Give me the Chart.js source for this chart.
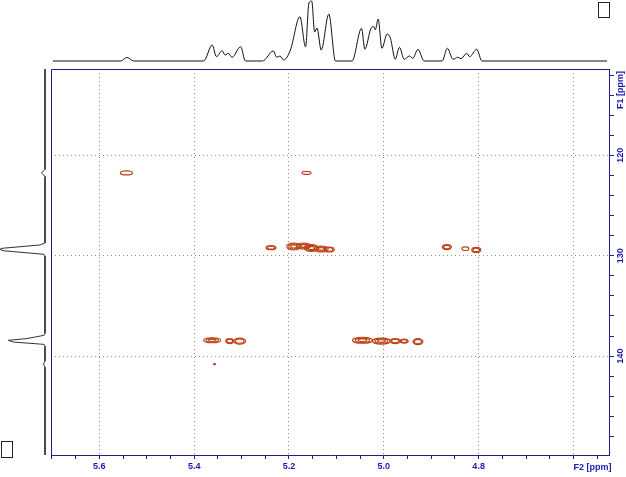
<!DOCTYPE html>
<html>
<head>
<meta charset="utf-8">
<script src="https://cdn.jsdelivr.net/npm/chart.js@4.4.1/dist/chart.umd.min.js"></script>
<style>
  html, body { margin:0; padding:0; background:#fff; }
  #wrap { position:relative; width:626px; height:477px; overflow:hidden; }
  canvas { position:absolute; }
  #main { left:0; top:0; }
  #topProj { left:51px; top:0; }
  #leftProj { left:0; top:69px; }
  .box { position:absolute; border:1px solid #222; background:#fff; }
</style>
</head>
<body>
<div id="wrap">
  <canvas id="main" width="626" height="477"></canvas>
  <canvas id="topProj" width="558" height="64"></canvas>
  <canvas id="leftProj" width="48" height="386"></canvas>
  <div class="box" style="left:598px;top:2px;width:10px;height:14px"></div>
  <div class="box" style="left:1px;top:441px;width:10px;height:15px"></div>
</div>
<script>
// plot windows (ppm)
const f2Range = [4.525, 5.702];
const f1Range = [111.4, 149.85];
const f1Labelled = [120, 130, 140];

// cross peaks: centre (F2, F1), half widths (ppm), number of contour levels
const peakF2 = [5.543, 5.163, 5.238, 5.190, 5.169, 5.153, 5.132, 5.115, 4.867, 4.828, 4.805,
                5.362, 5.325, 5.304, 5.045, 5.005, 4.976, 4.957, 4.928, 5.357];
const peakF1 = [121.75, 121.75, 129.2, 129.08, 129.03, 129.23, 129.33, 129.38, 129.14, 129.3, 129.42,
                138.42, 138.5, 138.5, 138.42, 138.5, 138.5, 138.5, 138.55, 140.8];
const peakWF2 = [0.0127, 0.0095, 0.0105, 0.0148, 0.0148, 0.0148, 0.0148, 0.0105, 0.0095, 0.0074, 0.0095,
                 0.018, 0.0084, 0.0127, 0.021, 0.019, 0.0105, 0.0084, 0.0105, 0.002];
const peakWF1 = [0.2, 0.15, 0.2, 0.35, 0.3, 0.35, 0.3, 0.25, 0.25, 0.18, 0.25,
                 0.25, 0.25, 0.3, 0.3, 0.3, 0.25, 0.2, 0.3, 0.06];
const peakLevels = [1, 1, 2, 3, 3, 3, 3, 2, 2, 1, 2, 3, 2, 2, 3, 3, 2, 2, 2, 1];

// F2 projection (1H)
const projF2Ppm = [5.698, 5.555, 5.542, 5.527, 5.380, 5.362, 5.353, 5.341, 5.335, 5.328, 5.320, 5.302, 5.292,
  5.256, 5.233, 5.226, 5.219, 5.211, 5.197, 5.177, 5.165, 5.158, 5.152, 5.146, 5.141, 5.132, 5.116, 5.102,
  5.067, 5.047, 5.040, 5.027, 5.021, 5.018, 5.012, 5.004, 4.993, 4.986, 4.976, 4.967, 4.957, 4.946, 4.939,
  4.928, 4.915, 4.877, 4.866, 4.854, 4.844, 4.837, 4.825, 4.819, 4.804, 4.793, 4.529];
const projF2Int = [0, 0, 3.5, 0, 0, 16, 4.3, 10.3, 6, 7.7, 3.7, 14.3, 0,
  0, 10, 3.7, 5, 1, 11, 44.3, 14, 58, 60, 29, 33, 11, 47, 0,
  0, 32.7, 11.7, 32.7, 34.3, 31, 42, 12.7, 27, 22.7, 1.7, 13.7, 1.7, 5, 2.7,
  11.7, 0, 0, 12.7, 1.7, 3.7, 2.3, 7.7, 4.3, 11.7, 0, 0];

// F1 projection (13C)
const projF1Ppm = [111.4, 121.4, 121.75, 122.1, 128.73, 128.93, 129.26, 129.36, 129.5, 129.86, 130.03,
  137.73, 137.93, 138.25, 138.43, 138.6, 138.83, 139.03, 140.5, 140.8, 141.1, 149.85];
const projF1Int = [0, 0, 3.5, 0, 0, 5, 43, 45, 42, 1, 0,
  0, 1, 18, 36.7, 31.7, 1, 0, 0, 1.5, 0, 0];

const AXIS_BLUE = '#1e1e8c';
const LABEL_BLUE = '#1a1ab4';
const GRID_GREY = '#8c8c8c';
const CONTOUR = '#bc4416';
const FONT_FAMILY = '"Liberation Sans", Arial, sans-serif';

function isMajorF2(v){ return Math.abs(v * 5 - Math.round(v * 5)) < 1e-6; }
function isMajorF1(v){ return Math.abs(v / 10 - Math.round(v / 10)) < 1e-6; }

const contourPlugin = {
  id: 'contours',
  afterDatasetsDraw(chart) {
    const {ctx, chartArea: a, scales: {x, y}} = chart;
    const meta = chart.getDatasetMeta(0);
    ctx.save();
    ctx.beginPath();
    ctx.rect(a.left, a.top, a.right - a.left, a.bottom - a.top);
    ctx.clip();
    ctx.strokeStyle = CONTOUR;
    ctx.lineWidth = 1.2;
    meta.data.forEach((el, i) => {
      const rx = Math.abs(x.getPixelForValue(peakF2[i] + peakWF2[i]) - el.x);
      const ry = Math.abs(y.getPixelForValue(peakF1[i] + peakWF1[i]) - el.y);
      const n = peakLevels[i];
      for (let k = 0; k < n; k++) {
        const f = 1 - k * 0.28;
        ctx.beginPath();
        ctx.ellipse(el.x, el.y, Math.max(rx * f, 0.8), Math.max(ry * f, 0.5), 0, 0, Math.PI * 2);
        ctx.stroke();
      }
    });
    ctx.restore();
  }
};

const frameAndLabels = {
  id: 'frameAndLabels',
  afterDraw(chart) {
    const {ctx, chartArea: a, scales: {x, y}} = chart;
    ctx.save();
    ctx.strokeStyle = AXIS_BLUE;
    ctx.lineWidth = 1;
    ctx.beginPath();
    ctx.moveTo(Math.round(a.left) + 0.5, Math.round(a.bottom));
    ctx.lineTo(Math.round(a.left) + 0.5, Math.round(a.top) + 0.5);
    ctx.lineTo(Math.round(a.right), Math.round(a.top) + 0.5);
    ctx.stroke();
    ctx.fillStyle = LABEL_BLUE;
    ctx.font = 'bold 9px ' + FONT_FAMILY;
    ctx.textAlign = 'center';
    ctx.textBaseline = 'middle';
    f1Labelled.forEach(v => {
      ctx.save();
      ctx.translate(a.right + 12, y.getPixelForValue(v));
      ctx.rotate(-Math.PI / 2);
      ctx.fillText(String(v), 0, 0);
      ctx.restore();
    });
    ctx.save();
    ctx.translate(a.right + 12, 90);
    ctx.rotate(-Math.PI / 2);
    ctx.fillText('F1 [ppm]', 0, 0);
    ctx.restore();
    ctx.textAlign = 'left';
    ctx.fillText('F2 [ppm]', x.getPixelForValue(4.6), 468);
    ctx.restore();
  }
};

new Chart(document.getElementById('main'), {
  type: 'scatter',
  data: {
    datasets: [{
      data: peakF2.map((v, i) => ({x: v, y: peakF1[i]})),
      pointRadius: 0,
      pointHoverRadius: 0
    }]
  },
  options: {
    responsive: false,
    animation: false,
    events: [],
    layout: { padding: { left: 51, top: 69, right: 0, bottom: 0 } },
    plugins: { legend: { display: false }, tooltip: { enabled: false } },
    scales: {
      x: {
        type: 'linear', position: 'bottom', reverse: true,
        min: f2Range[0], max: f2Range[1],
        afterFit: s => { s.height = 22; },
        ticks: {
          stepSize: 0.05, includeBounds: false, autoSkip: false, maxRotation: 0, padding: 2,
          color: LABEL_BLUE, font: { family: FONT_FAMILY, size: 9, weight: 'bold' },
          callback: v => (isMajorF2(v) && v > 4.7) ? v.toFixed(1) : ''
        },
        grid: {
          color: c => (c.tick && isMajorF2(c.tick.value)) ? GRID_GREY : 'rgba(0,0,0,0)',
          tickColor: AXIS_BLUE, tickLength: 4, lineWidth: 1
        },
        border: { display: true, color: AXIS_BLUE, width: 1, dash: [1, 3] }
      },
      y: {
        type: 'linear', position: 'right', reverse: true,
        min: f1Range[0], max: f1Range[1],
        afterFit: s => { s.width = 17; },
        ticks: { stepSize: 2, includeBounds: false, display: false },
        grid: {
          color: c => (c.tick && isMajorF1(c.tick.value)) ? GRID_GREY : 'rgba(0,0,0,0)',
          tickColor: AXIS_BLUE, tickLength: 5, lineWidth: 1
        },
        border: { display: true, color: AXIS_BLUE, width: 1, dash: [1, 3] }
      }
    }
  },
  plugins: [contourPlugin, frameAndLabels]
});

new Chart(document.getElementById('topProj'), {
  type: 'scatter',
  data: {
    datasets: [{
      data: projF2Ppm.map((v, i) => ({x: v, y: projF2Int[i]})),
      showLine: true, pointRadius: 0, borderColor: '#111', borderWidth: 1,
      cubicInterpolationMode: 'monotone', clip: false
    }]
  },
  options: {
    responsive: false, animation: false, events: [],
    layout: { padding: 0 },
    plugins: { legend: { display: false }, tooltip: { enabled: false } },
    scales: {
      x: { type: 'linear', display: false, reverse: true, min: f2Range[0], max: f2Range[1] },
      y: { type: 'linear', display: false, min: -3, max: 61 }
    }
  }
});

new Chart(document.getElementById('leftProj'), {
  type: 'scatter',
  data: {
    datasets: [{
      data: projF1Ppm.map((v, i) => ({x: projF1Int[i], y: v})),
      showLine: true, pointRadius: 0, borderColor: '#333', borderWidth: 1, clip: false
    }]
  },
  options: {
    responsive: false, animation: false, events: [],
    layout: { padding: 0 },
    plugins: { legend: { display: false }, tooltip: { enabled: false } },
    scales: {
      x: { type: 'linear', display: false, reverse: true, min: -3, max: 45 },
      y: { type: 'linear', display: false, reverse: true, min: f1Range[0], max: f1Range[1] }
    }
  }
});
</script>
</body>
</html>
